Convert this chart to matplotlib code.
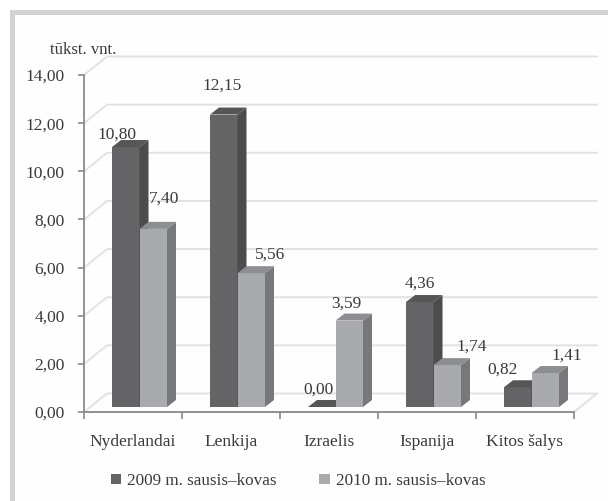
import matplotlib
matplotlib.use("Agg")
import matplotlib.pyplot as plt
from matplotlib.patches import Polygon, Patch, Rectangle

plt.rcParams['font.family'] = ['Liberation Serif', 'DejaVu Serif']

categories = ["Nyderlandai", "Lenkija", "Izraelis", "Ispanija", "Kitos šalys"]
series_names = ["2009 m. sausis–kovas", "2010 m. sausis–kovas"]
values_2009 = [10.80, 12.15, 0.00, 4.36, 0.82]
values_2010 = [7.40, 5.56, 3.59, 1.74, 1.41]
y_ticks = [0, 2, 4, 6, 8, 10, 12, 14]

W, H = 608, 501
L, R, B, T = 84, 574, 412, 75
fig = plt.figure(figsize=(W / 100, H / 100), dpi=100, facecolor="white")
ax = fig.add_axes([L / W, 1 - B / H, (R - L) / W, (B - T) / H])
ax.set_xlim(0, 5)
ax.set_ylim(0, 14)
ax.patch.set_alpha(0)

px = 5 / (R - L)            # data units per pixel, x
py = 14 / (B - T)           # data units per pixel, y
GRID = "#e2e2e2"
AXC = "#8a8a8a"
INK = "#3a3a3a"
FS = 12.5

# grey frame of the page
fig.add_artist(Rectangle((10 / W, 0), 598 / W, 1 - 10 / H, transform=fig.transFigure,
                         fc="#fefefe", ec="none", zorder=-3))
fig.add_artist(Rectangle((10 / W, 0), 5 / W, 1 - 10 / H, transform=fig.transFigure,
                         fc="#d2d2d2", ec="none", zorder=-2))
fig.add_artist(Rectangle((10 / W, 1 - 15 / H), 598 / W, 5 / H, transform=fig.transFigure,
                         fc="#d2d2d2", ec="none", zorder=-2))

# back wall, side wall and floor
wall_dx, wall_dy = 23 * px, 18.5 * py
for t in y_ticks:
    ax.plot([0, wall_dx, 5 + wall_dx], [t, t + wall_dy, t + wall_dy],
            color=GRID, lw=1.4, clip_on=False, zorder=1)
ax.plot([5, 5 + wall_dx], [0, wall_dy], color=GRID, lw=1.4, clip_on=False, zorder=1)
ax.plot([0, 5], [0, 0], color=GRID, lw=1.4, clip_on=False, zorder=1)

# 3-D bars
bar_w = 27.5 * px
depth_x, depth_y = 9 * px, 7 * py
base = 5 * py
palette = [("#646466", "#4c4c4d", "#565657"), ("#a9aaad", "#76787b", "#8d8e91")]
for s, vals in enumerate([values_2009, values_2010]):
    front, side, top = palette[s]
    for i, v in enumerate(vals):
        x0 = i + 0.5 + 6.5 * px + (s - 1) * bar_w
        x1 = x0 + bar_w
        y0, y1 = base, base + v
        ax.bar(x0, v, width=bar_w, bottom=base, align="edge", color=front, lw=0, zorder=3 + i + s * 0.1)
        ax.add_patch(Polygon([(x1, y0), (x1 + depth_x, y0 + depth_y), (x1 + depth_x, y1 + depth_y), (x1, y1)],
                             fc=side, ec="none", clip_on=False, zorder=3 + i + s * 0.1))
        ax.add_patch(Polygon([(x0, y1), (x1, y1), (x1 + depth_x, y1 + depth_y), (x0 + depth_x, y1 + depth_y)],
                             fc=top, ec="none", clip_on=False, zorder=3 + i + s * 0.1))

# value labels (label centre relative to the bar's front-top centre, pixels)
offs_2009 = [(-9, 12), (-2, 29), (-3, 17), (0, 18), (-15, 18)]
offs_2010 = [(11, 30), (19, 19), (-3, 17), (24, 18), (22, 17)]
for s, (vals, offs) in enumerate(zip([values_2009, values_2010], [offs_2009, offs_2010])):
    for i, (v, o) in enumerate(zip(vals, offs)):
        x0 = i + 0.5 + 6.5 * px + (s - 1) * bar_w
        ax.annotate(f"{v:.2f}".replace(".", ","), (x0 + bar_w / 2, base + v), xytext=o,
                    textcoords="offset pixels", ha="center", va="center",
                    fontsize=FS, color=INK, zorder=20, annotation_clip=False)

# axes
for sp in ("top", "right"):
    ax.spines[sp].set_visible(False)
for sp in ("left", "bottom"):
    ax.spines[sp].set_color(AXC)
    ax.spines[sp].set_linewidth(1.3)
    ax.spines[sp].set_zorder(2)
ax.set_yticks(y_ticks)
ax.set_yticklabels([f"{t:.2f}".replace(".", ",") for t in y_ticks], fontsize=FS, color=INK)
ax.set_xticks(range(6))
ax.set_xticklabels([])
ax.set_xticks([i + 0.5 for i in range(5)], minor=True)
ax.set_xticklabels(categories, minor=True, fontsize=FS, color=INK)
ax.tick_params(axis="x", which="minor", length=0, pad=16)
ax.tick_params(axis="x", which="major", length=5, width=1.2, color=AXC)
ax.tick_params(axis="y", length=4, width=1.2, color=AXC, pad=10)

fig.text(83 / W, 1 - 50 / H, "tūkst. vnt.", fontsize=12, color=INK, ha="center", va="center")

handles = [Patch(fc=palette[0][0], ec="none"), Patch(fc=palette[1][0], ec="none")]
fig.legend(handles, series_names, ncol=2, frameon=False, fontsize=12.3, labelcolor=INK,
           loc="center", bbox_to_anchor=(298 / W, 1 - 481 / H),
           handlelength=0.6, handleheight=0.6, handletextpad=0.35, columnspacing=2.5)

fig.savefig("out.png", dpi=100, facecolor="white")
